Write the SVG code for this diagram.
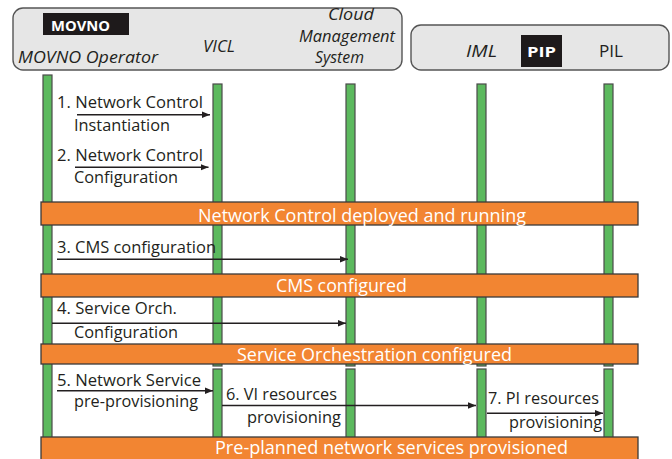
<svg xmlns="http://www.w3.org/2000/svg" width="672" height="459" viewBox="0 0 672 459">
  <defs>
    <marker id="arrow" markerUnits="userSpaceOnUse" markerWidth="9" markerHeight="8" refX="8" refY="4" orient="auto">
      <path d="M0,0.8 L8,4 L0,7.2 Z" fill="#231f20"/>
    </marker>
    <style>
      .hdr { fill: #e6e6e6; stroke: #555; stroke-width: 1.4; }
      .tag { fill: #1e1a1b; }
      .tagtext { font-family: "Open Sans", Lato, "Liberation Sans", sans-serif; font-weight: bold; fill: #fff; font-size: 15px; }
      .role { font-family: "Open Sans", Lato, "Liberation Sans", sans-serif; fill: #231f20; font-size: 16px; }
      .it { font-style: italic; }
      .life { fill: #5cb95e; stroke: #4a4a4a; stroke-width: 1.2; }
      .bar { fill: #f28532; stroke: #3a3a3a; stroke-width: 1.3; }
      .bartext { font-family: "Open Sans", Lato, "Liberation Sans", sans-serif; fill: #fff; font-size: 17.5px; }
      .msg { font-family: "Open Sans", Lato, "Liberation Sans", sans-serif; fill: #231f20; font-size: 17px; }
      .conn { stroke: #231f20; stroke-width: 1.6; fill: none; marker-end: url(#arrow); }
    </style>
  </defs>

  <rect width="672" height="459" fill="#fff"/>

  <!-- header: MOVNO side -->
  <g id="movno-header">
    <rect class="hdr" x="13" y="8" width="389" height="62" rx="10"/>
    <rect class="tag" x="43" y="13" width="86" height="22"/>
    <text class="tagtext" x="51" y="30.5" textLength="59" lengthAdjust="spacingAndGlyphs">MOVNO</text>
  </g>
  <g id="movno-operator">
    <text class="role it" x="18" y="63" textLength="140" lengthAdjust="spacingAndGlyphs">MOVNO Operator</text>
  </g>
  <g id="vicl">
    <text class="role it" x="203" y="52" textLength="32" lengthAdjust="spacingAndGlyphs">VICL</text>
  </g>
  <g id="cms">
    <text class="role it" x="328" y="19.5" font-size="14" textLength="46" lengthAdjust="spacingAndGlyphs">Cloud</text>
    <text class="role it" x="299" y="41.5" font-size="14" textLength="96" lengthAdjust="spacingAndGlyphs">Management</text>
    <text class="role it" x="315" y="63" font-size="14" textLength="49" lengthAdjust="spacingAndGlyphs">System</text>
  </g>

  <!-- header: PIP side -->
  <g id="pip-header">
    <rect class="hdr" x="411" y="25" width="258" height="45" rx="10"/>
    <rect class="tag" x="521" y="35" width="41" height="32"/>
    <text class="tagtext" x="527" y="57" font-size="17" textLength="29" lengthAdjust="spacingAndGlyphs">PIP</text>
  </g>
  <g id="iml">
    <text class="role it" x="466" y="57" textLength="31" lengthAdjust="spacingAndGlyphs">IML</text>
  </g>
  <g id="pil">
    <text class="role" x="599" y="57" textLength="24" lengthAdjust="spacingAndGlyphs">PIL</text>
  </g>

  <!-- lifelines -->
  <g id="lifelines">
    <rect class="life" x="43" y="75" width="9" height="366"/>
    <rect class="life" x="213" y="84" width="9" height="282"/>
    <rect class="life" x="213" y="369" width="9" height="72"/>
    <rect class="life" x="346" y="84" width="9" height="282"/>
    <rect class="life" x="346" y="369" width="9" height="72"/>
    <rect class="life" x="477" y="84" width="9" height="282"/>
    <rect class="life" x="477" y="369" width="9" height="72"/>
    <rect class="life" x="604" y="84" width="9" height="282"/>
    <rect class="life" x="604" y="369" width="9" height="72"/>
  </g>

  <!-- state bars -->
  <g id="state-deployed">
    <rect class="bar" x="41" y="202" width="597" height="23"/>
    <text class="bartext" x="198" y="222" textLength="328" lengthAdjust="spacingAndGlyphs">Network Control deployed and running</text>
  </g>
  <g id="state-cms">
    <rect class="bar" x="41" y="274" width="597" height="23"/>
    <text class="bartext" x="276" y="292" textLength="131" lengthAdjust="spacingAndGlyphs">CMS configured</text>
  </g>
  <g id="state-orch">
    <rect class="bar" x="41" y="344" width="597" height="20"/>
    <text class="bartext" x="237" y="361" textLength="275" lengthAdjust="spacingAndGlyphs">Service Orchestration configured</text>
  </g>
  <g id="state-provisioned">
    <rect class="bar" x="41" y="437" width="597" height="26"/>
    <text class="bartext" x="215" y="454" textLength="353" lengthAdjust="spacingAndGlyphs">Pre-planned network services provisioned</text>
  </g>

  <!-- messages -->
  <g id="connectors">
    <line class="conn" x1="77" y1="114.7" x2="210" y2="114.7"/>
    <line class="conn" x1="75" y1="167.3" x2="208.5" y2="167.3"/>
    <line class="conn" x1="57" y1="259.3" x2="348" y2="259.3"/>
    <line class="conn" x1="52" y1="323.3" x2="346" y2="323.3"/>
    <line class="conn" x1="57" y1="390.7" x2="213" y2="390.7"/>
    <line class="conn" x1="222" y1="405.5" x2="476" y2="405.5"/>
    <line class="conn" x1="487" y1="413.3" x2="603" y2="413.3"/>
  </g>

  <g id="labels">
    <text class="msg" x="57" y="108" textLength="146" lengthAdjust="spacingAndGlyphs">1. Network Control</text>
    <text class="msg" x="74" y="130.5" textLength="96" lengthAdjust="spacingAndGlyphs">Instantiation</text>
    <text class="msg" x="57" y="161" textLength="146" lengthAdjust="spacingAndGlyphs">2. Network Control</text>
    <text class="msg" x="74" y="183" textLength="104" lengthAdjust="spacingAndGlyphs">Configuration</text>
    <text class="msg" x="57" y="253.3" textLength="159" lengthAdjust="spacingAndGlyphs">3. CMS configuration</text>
    <text class="msg" x="57" y="314.3" textLength="120" lengthAdjust="spacingAndGlyphs">4. Service Orch.</text>
    <text class="msg" x="74" y="337.5" textLength="104" lengthAdjust="spacingAndGlyphs">Configuration</text>
    <text class="msg" x="57" y="385.5" textLength="144" lengthAdjust="spacingAndGlyphs">5. Network Service</text>
    <text class="msg" x="74" y="406.7" textLength="124" lengthAdjust="spacingAndGlyphs">pre-provisioning</text>
    <text class="msg" x="226" y="399.5" textLength="111" lengthAdjust="spacingAndGlyphs">6. VI resources</text>
    <text class="msg" x="247" y="422.5" textLength="94" lengthAdjust="spacingAndGlyphs">provisioning</text>
    <text class="msg" x="488" y="404.3" textLength="111" lengthAdjust="spacingAndGlyphs">7. PI resources</text>
    <text class="msg" x="509" y="428.3" textLength="93" lengthAdjust="spacingAndGlyphs">provisioning</text>
  </g>
</svg>
